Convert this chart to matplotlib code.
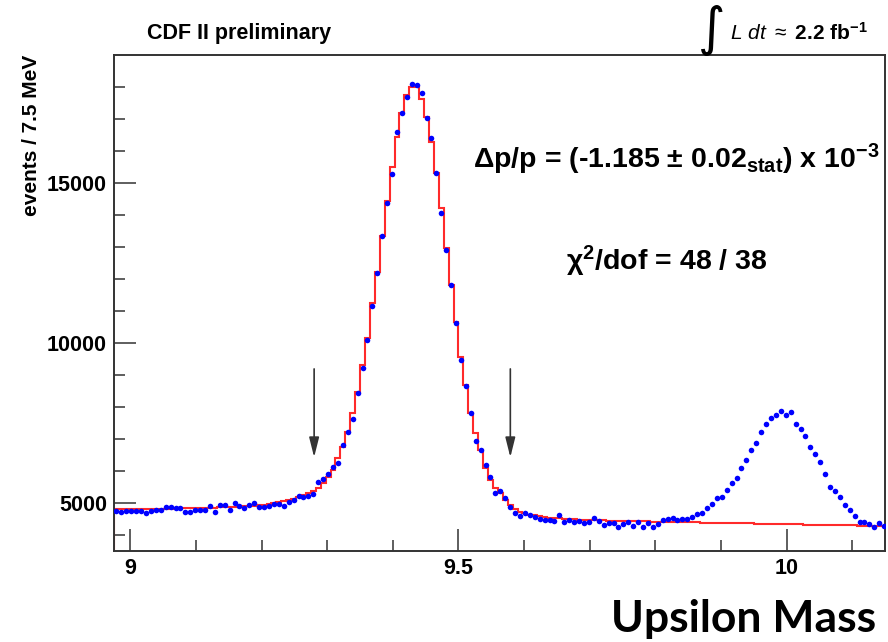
import numpy as np
import matplotlib
matplotlib.use("Agg")
import matplotlib.pyplot as plt

plt.rcParams['font.family'] = ['Liberation Sans', 'DejaVu Sans']
plt.rcParams['mathtext.fontset'] = 'custom'
plt.rcParams['mathtext.rm'] = 'Liberation Sans'
plt.rcParams['mathtext.it'] = 'Liberation Sans:italic'
plt.rcParams['mathtext.bf'] = 'Liberation Sans:bold'

# binning: 7.5 MeV bins starting at 8.975 GeV
x_start = 8.975
bin_w = 0.0075

# measured events per bin (blue points)
counts = [4740, 4719, 4740, 4740, 4760, 4740, 4698, 4760, 4770, 4781,
          4885, 4875, 4844, 4854, 4708, 4708, 4781, 4781, 4781, 4895,
          4729, 4948, 4938, 4792, 4990, 4895, 4854, 4938, 4990, 4885,
          4885, 4917, 4958, 4979, 4895, 5031, 5083, 5208, 5177, 5229,
          5292, 5646, 5750, 5906, 6125, 6250, 6812, 7219, 7625, 8437,
          9219, 10094, 11156, 12187, 13344, 14375, 15281, 16594, 17187, 17687,
          18094, 18062, 17812, 17031, 16406, 15312, 14062, 12906, 11812, 10625,
          9469, 8656, 7812, 6937, 6656, 6187, 5812, 5312, 5375, 5156,
          4875, 4687, 4594, 4687, 4625, 4562, 4500, 4469, 4469, 4437,
          4625, 4406, 4469, 4406, 4437, 4375, 4406, 4531, 4437, 4312,
          4375, 4375, 4250, 4344, 4406, 4281, 4406, 4250, 4375, 4250,
          4344, 4469, 4500, 4531, 4469, 4500, 4500, 4562, 4656, 4687,
          4844, 4969, 5156, 5187, 5406, 5625, 5781, 6094, 6344, 6656,
          6875, 7219, 7469, 7656, 7750, 7875, 7750, 7844, 7469, 7312,
          7094, 6750, 6531, 6281, 5906, 5500, 5375, 5187, 4937, 4781,
          4594, 4406, 4406, 4344, 4250, 4375, 4281]

# fitted template (red histogram)
fit = [4810, 4810, 4812, 4814, 4815, 4817, 4818, 4820, 4822, 4824,
       4826, 4828, 4830, 4832, 4835, 4838, 4841, 4844, 4848, 4852,
       4856, 4861, 4866, 4872, 4879, 4887, 4896, 4907, 4920, 4935,
       4952, 4972, 4995, 5022, 5053, 5090, 5133, 5183, 5242, 5310,
       5390, 5470, 5625, 5812, 6030, 6400, 6760, 7230, 7810, 8480,
       9310, 10170, 11250, 12230, 13350, 14450, 15510, 16450, 17190, 17750,
       17990, 17990, 17640, 17070, 16290, 15300, 14210, 12960, 11810, 10670,
       9570, 8690, 7800, 7180, 6656, 6084, 5720, 5460, 5300, 5094,
       4937, 4800, 4730, 4680, 4640, 4610, 4585, 4565, 4545, 4530,
       4518, 4508, 4499, 4491, 4484, 4478, 4472, 4467, 4462, 4457,
       4453, 4449, 4445, 4441, 4437, 4433, 4429, 4426, 4423, 4420,
       4417, 4414, 4411, 4408, 4405, 4402, 4399, 4396, 4393, 4390,
       4387, 4384, 4381, 4378, 4375, 4372, 4369, 4366, 4363, 4360,
       4357, 4354, 4351, 4348, 4345, 4342, 4339, 4336, 4333, 4330,
       4327, 4324, 4321, 4318, 4315, 4312, 4309, 4306, 4303, 4300,
       4298, 4296, 4294, 4292, 4290, 4288, 4286]

# fit window arrows (GeV) and their y range
arrow_x = [9.280, 9.579]
arrow_top = 9190
arrow_tip = 6430

edges = x_start + bin_w * np.arange(len(counts) + 1)
centers = 0.5 * (edges[:-1] + edges[1:])

W, H = 888, 642
fig = plt.figure(figsize=(W / 100, H / 100), dpi=100)
ax = fig.add_axes([114 / W, 1 - 551 / H, (885 - 114) / W, (551 - 55) / H])

ax.stairs(fit, edges, color='#ff2a2a', lw=1.5, zorder=2)
ax.plot(centers, counts, 'o', color='#0000ff', markersize=4.0, mec='none', zorder=3)

for xa in arrow_x:
    ax.annotate('', xy=(xa, arrow_tip), xytext=(xa, arrow_top),
                arrowprops=dict(arrowstyle='-|>,head_length=1.2,head_width=0.3',
                                color='#333333', lw=1.2, mutation_scale=10,
                                shrinkA=0, shrinkB=0))

ax.set_xlim(8.975, 10.15)
ax.set_ylim(3500, 19000)
ax.set_xticks([9, 9.5, 10])
ax.set_xticklabels(['9', '9.5', '10'])
ax.set_xticks(np.arange(9.0, 10.15, 0.1), minor=True)
ax.set_yticks([5000, 10000, 15000])
ax.set_yticks(np.arange(4000, 19000, 1000), minor=True)
ax.tick_params(which='both', direction='in', top=False, right=False,
               color='#333333', width=1.1, labelsize=15.5)
ax.tick_params(which='major', length=16)
ax.tick_params(which='minor', length=8)
ax.tick_params(axis='y', pad=5)
ax.tick_params(axis='x', pad=5)
for lab in ax.get_xticklabels() + ax.get_yticklabels():
    lab.set_fontweight('bold')
for s in ax.spines.values():
    s.set_linewidth(1.4)
    s.set_color('#333333')

ax.set_ylabel('events / 7.5 MeV', loc='top', fontsize=15, fontweight='bold')
ax.yaxis.set_label_coords(-0.095, 1.0)

fig.text(147 / W, 1 - 33 / H, 'CDF II preliminary', fontsize=15.5,
         fontweight='bold', va='center', ha='left')
fig.text(712 / W, 1 - 30 / H, '\u222b', fontsize=38, family='DejaVu Sans',
         va='center', ha='center')
fig.text(868 / W, 1 - 40 / H, r'$\mathit{L\ dt}$ $\approx$ 2.2 fb$^{\mathbf{-1}}$',
         fontsize=15, fontweight='bold', ha='right', va='baseline')

fig.text(880 / W, 1 - 168 / H,
         '\u0394p/p = (-1.185 \u00b1 0.02$_{\\mathbf{stat}}$) x 10$^{\\mathbf{-3}}$',
         fontsize=20.5, fontweight='bold', ha='right', va='baseline')
fig.text(566 / W, 1 - 270 / H, '\u03c7$^{\\mathbf{2}}$/dof = 48 / 38',
         fontsize=20.5, fontweight='bold', ha='left', va='baseline')

fig.text(876 / W, 1 - 632 / H, 'Upsilon Mass', fontsize=32, fontweight='bold',
         family='Lato', ha='right', va='baseline')

fig.savefig('out.png', dpi=100, facecolor='white')
